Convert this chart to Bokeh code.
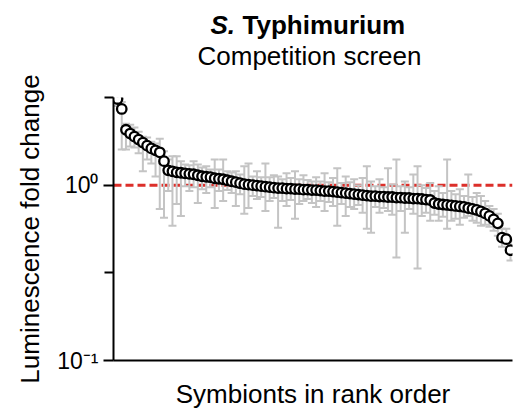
from bokeh.plotting import figure
from bokeh.layouts import column
from bokeh.models import (ColumnDataSource, Range1d, FixedTicker, CustomJSTickFormatter,
                          Whisker, TeeHead, Span)
from bokeh.core.properties import value
from bokeh.embed import file_html
from bokeh.resources import INLINE

# Luminescence fold change per symbiont, in rank order
fold_change = [3.10, 2.72, 2.07, 1.97, 1.89, 1.82, 1.75, 1.68, 1.62, 1.58,
               1.54, 1.37, 1.215, 1.20, 1.184, 1.177, 1.169, 1.161, 1.154, 1.139,
               1.124, 1.117, 1.110, 1.095, 1.088, 1.081, 1.067, 1.053, 1.040, 1.026,
               1.013, 1.007, 1.000, 0.994, 0.987, 0.981, 0.974, 0.968, 0.962, 0.962,
               0.955, 0.955, 0.949, 0.949, 0.943, 0.943, 0.937, 0.937, 0.931, 0.925,
               0.925, 0.919, 0.913, 0.907, 0.901, 0.895, 0.889, 0.884, 0.878, 0.872,
               0.867, 0.867, 0.861, 0.861, 0.856, 0.856, 0.850, 0.850, 0.845, 0.845,
               0.839, 0.839, 0.834, 0.828, 0.823, 0.791, 0.781, 0.776, 0.771, 0.766,
               0.761, 0.756, 0.751, 0.741, 0.732, 0.722, 0.708, 0.690, 0.668, 0.638,
               0.606, 0.502, 0.492, 0.426]

err_upper = [3.35, 2.98, 2.24, 2.21, 2.13, 2.02, 1.89, 1.87, 1.77, 1.73,
             1.84, 1.56, 1.40, 1.46, 1.46, 1.37, 1.31, 1.30, 1.37, 1.31,
             1.26, 1.28, 1.23, 1.40, 1.23, 1.40, 1.20, 1.18, 1.20, 1.15,
             1.28, 1.33, 1.12, 1.20, 1.11, 1.33, 1.11, 1.14, 1.12, 1.08,
             1.17, 1.10, 1.20, 1.08, 1.14, 1.07, 1.05, 1.11, 1.05, 1.17,
             1.04, 1.10, 1.25, 1.03, 1.12, 1.04, 1.08, 1.00, 1.10, 1.28,
             1.05, 0.987, 1.08, 0.974, 1.25, 1.01, 1.40, 0.987, 1.05, 0.974,
             1.15, 1.28, 1.00, 0.962, 1.03, 0.925, 0.987, 0.901, 1.40, 0.925,
             0.889, 0.949, 0.867, 1.15, 0.856, 0.901, 0.867, 0.812, 0.761, 0.732,
             0.686, 0.564, 0.564, 0.483]

err_lower = [2.83, 1.60, 1.60, 1.66, 1.64, 1.52, 1.20, 1.40, 1.33, 1.12,
             0.732, 0.651, 0.925, 0.587, 0.781, 0.668, 0.987, 0.925, 0.974, 0.791,
             0.949, 0.901, 0.974, 0.741, 0.925, 0.812, 0.937, 0.901, 0.761, 0.889,
             0.686, 0.741, 0.867, 0.834, 0.856, 0.713, 0.812, 0.845, 0.571, 0.812,
             0.761, 0.823, 0.643, 0.781, 0.812, 0.834, 0.791, 0.751, 0.812, 0.713,
             0.801, 0.761, 0.587, 0.781, 0.668, 0.751, 0.732, 0.771, 0.695, 0.564,
             0.536, 0.751, 0.695, 0.741, 0.713, 0.677, 0.387, 0.713, 0.536, 0.732,
             0.686, 0.335, 0.668, 0.695, 0.626, 0.677, 0.626, 0.660, 0.564, 0.626,
             0.643, 0.594, 0.651, 0.668, 0.626, 0.610, 0.587, 0.594, 0.579, 0.550,
             0.515, 0.446, 0.464, 0.372]

rank = list(range(1, len(fold_change) + 1))

y_major_ticks = [0.1, 1.0]
y_minor_ticks = [10 ** -0.5, 10 ** 0.5]
baseline_value = 1.0

title_species = ["S.", "Typhimurium"]
title_sub = "Competition screen"

FONT = "Liberation Sans"
HEADER_H = 70
FRAME_L, FRAME_R = 113, 512

# ---------- header with the two-line title (frame aligned with the main plot) ----------
hdr = figure(width=519, height=HEADER_H, x_range=Range1d(FRAME_L, FRAME_R),
             y_range=Range1d(HEADER_H, 0),
             output_backend="svg", toolbar_location=None,
             x_axis_location=None, y_axis_location=None,
             min_border_left=FRAME_L, min_border_right=519 - FRAME_R,
             min_border_top=0, min_border_bottom=0)
hdr.outline_line_color = None
hdr.xgrid.visible = False
hdr.ygrid.visible = False
hdr.text(x=[210], y=[24], text=[title_species[0]], text_font=value(FONT),
         text_font_size="26px", text_font_style="bold italic",
         text_align="left", text_baseline="alphabetic", text_color="black")
hdr.text(x=[242], y=[24], text=[title_species[1]], text_font=value(FONT),
         text_font_size="26px", text_font_style="bold",
         text_align="left", text_baseline="alphabetic", text_color="black")
hdr.text(x=[309], y=[55], text=[title_sub], text_font=value(FONT),
         text_font_size="26px", text_font_style="normal",
         text_align="center", text_baseline="alphabetic", text_color="black")

# ---------- main plot ----------
src = ColumnDataSource(data=dict(x=rank, y=fold_change, upper=err_upper, lower=err_lower))

p = figure(width=519, height=411 - HEADER_H, y_axis_type="log",
           x_range=Range1d(0.05, len(rank) + 0.47),
           y_range=Range1d(0.1, 10 ** 0.5),
           output_backend="svg", toolbar_location=None,
           min_border_left=FRAME_L, min_border_right=519 - FRAME_R,
           min_border_top=97 - HEADER_H, min_border_bottom=50)
p.outline_line_color = None
p.xgrid.visible = False
p.ygrid.visible = False
p.background_fill_color = "white"
p.border_fill_color = "white"

p.add_layout(Span(location=baseline_value, dimension="width", line_color="#dc2f2a",
                  line_width=3, line_dash="8 4", level="underlay"))

gray = "#c4c4c4"
wh = Whisker(base="x", upper="upper", lower="lower", source=src,
             line_color=gray, line_width=2, level="underlay",
             upper_head=TeeHead(size=8, line_color=gray, line_width=2),
             lower_head=TeeHead(size=8, line_color=gray, line_width=2))
p.add_layout(wh)

p.scatter("x", "y", source=src, size=9.5, fill_color="white",
          line_color="black", line_width=2.3)

ya = p.yaxis[0]
ya.ticker = FixedTicker(ticks=y_major_ticks, minor_ticks=y_minor_ticks)
ya.formatter = CustomJSTickFormatter(code="""
if (Math.abs(tick - 1) < 1e-9) return "10\u2070";
if (Math.abs(tick - 0.1) < 1e-9) return "10\u207B\u00B9";
return "";
""")
ya.axis_line_width = 2
ya.axis_line_color = "black"
ya.major_tick_line_width = 2
ya.major_tick_in = 0
ya.major_tick_out = 10
ya.minor_tick_line_width = 2
ya.minor_tick_in = 0
ya.minor_tick_out = 9
ya.major_label_text_font = FONT
ya.major_label_text_font_size = "23px"
ya.major_label_text_color = "black"
ya.major_label_standoff = 5
ya.axis_label = "Luminescence fold change"
ya.axis_label_text_font = FONT
ya.axis_label_text_font_size = "26px"
ya.axis_label_text_font_style = "normal"
ya.axis_label_text_color = "black"
ya.axis_label_standoff = 9

xa = p.xaxis[0]
xa.ticker = FixedTicker(ticks=[])
xa.axis_line_width = 2
xa.axis_line_color = "black"
xa.major_tick_line_color = None
xa.minor_tick_line_color = None
xa.major_label_text_font_size = "0px"
xa.axis_label = "Symbionts in rank order"
xa.axis_label_text_font = FONT
xa.axis_label_text_font_size = "26px"
xa.axis_label_text_font_style = "normal"
xa.axis_label_text_color = "black"
xa.axis_label_standoff = 18

layout = column(hdr, p, spacing=0)
open("out.html", "w").write(file_html(layout, INLINE))
